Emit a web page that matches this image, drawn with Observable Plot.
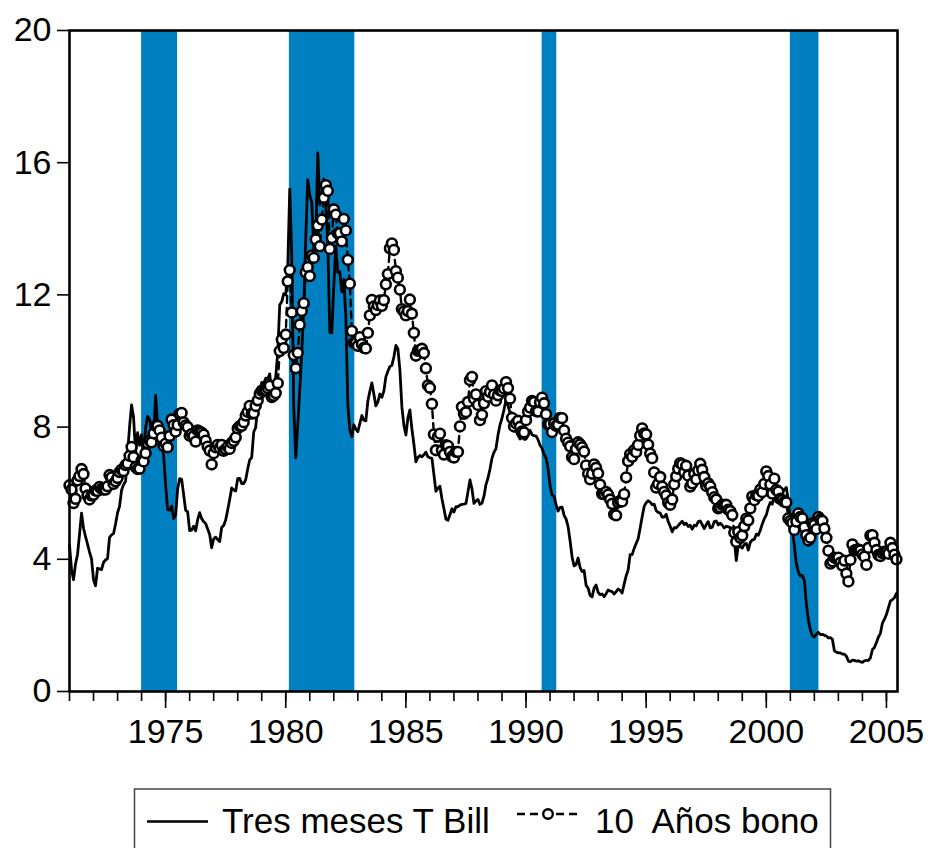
<!DOCTYPE html>
<html>
<head>
<meta charset="utf-8">
<script src="https://cdn.jsdelivr.net/npm/d3@7"></script>
<script src="https://cdn.jsdelivr.net/npm/@observablehq/plot@0.6"></script>
<style>
  html, body { margin: 0; padding: 0; background: white; }
  body { width: 928px; height: 848px; position: relative; overflow: hidden; font-family: "Liberation Sans", Arial, Helvetica, sans-serif; }
  #chart { position: absolute; left: 0; top: 0; }
  #legend { position: absolute; left: 0; top: 770px; }
</style>
</head>
<body>
<div id="chart"></div>
<svg id="legend" width="928" height="78"></svg>
<script>
// ---- Data (monthly, Jan 1971 – Jun 2005) ----
const startYear = 1971;
const seriesNames = ["Tres meses T Bill", "10  Años bono"];

const tbill = [
  4.44,3.70,3.38,3.86,4.14,4.75,5.40,4.94,4.69,4.46,4.22,4.01,
  3.38,3.20,3.73,3.71,3.69,3.91,3.98,4.02,4.66,4.74,4.78,5.07,
  5.41,5.60,6.09,6.26,6.36,7.19,8.01,8.67,8.29,7.22,7.83,7.45,
  7.77,7.12,7.96,8.33,8.23,7.90,7.55,8.96,8.06,7.46,7.47,7.15,
  6.26,5.50,5.49,5.61,5.23,5.34,6.13,6.44,6.42,5.96,5.48,5.44,
  4.87,4.88,5.00,4.86,5.20,5.41,5.23,5.14,5.08,4.92,4.75,4.35,
  4.62,4.67,4.60,4.54,4.96,5.02,5.19,5.49,5.81,6.16,6.10,6.07,
  6.44,6.45,6.29,6.29,6.41,6.73,7.01,7.08,7.85,7.99,8.64,9.08,
  9.35,9.32,9.48,9.46,9.61,9.06,9.24,9.52,10.26,11.70,11.79,12.04,
  12.00,12.86,15.20,13.20,8.58,7.07,8.06,9.13,10.27,11.62,13.73,15.49,
  15.02,14.79,13.36,13.69,16.30,14.73,14.95,15.51,14.70,13.54,10.86,10.85,
  12.28,13.48,12.68,12.70,12.09,12.47,11.35,8.68,7.92,7.71,8.07,7.94,
  7.86,8.11,8.35,8.21,8.19,8.79,9.08,9.34,9.00,8.64,8.76,9.00,
  8.90,9.09,9.52,9.69,9.83,9.87,10.12,10.47,10.37,9.74,8.61,8.06,
  7.76,8.27,8.52,7.95,7.48,6.95,7.08,7.14,7.10,7.16,7.24,7.10,
  7.07,7.06,6.56,6.06,6.15,6.21,5.83,5.53,5.21,5.18,5.35,5.53,
  5.43,5.59,5.59,5.64,5.66,5.67,5.69,6.04,6.40,6.13,5.69,5.77,
  5.81,5.66,5.70,5.91,6.26,6.46,6.73,7.06,7.24,7.35,7.76,8.07,
  8.27,8.53,8.82,8.65,8.43,8.15,7.88,7.90,7.75,7.64,7.69,7.63,
  7.64,7.74,7.90,7.77,7.74,7.73,7.62,7.45,7.36,7.17,7.06,6.74,
  6.22,5.94,5.91,5.65,5.46,5.57,5.58,5.33,5.22,4.99,4.56,4.07,
  3.80,3.84,4.04,3.75,3.63,3.66,3.21,3.13,2.91,2.86,3.13,3.22,
  3.00,2.93,2.95,2.87,2.96,3.07,3.04,3.02,2.95,3.02,3.10,3.06,
  2.98,3.25,3.50,3.68,4.14,4.14,4.33,4.48,4.62,4.95,5.29,5.60,
  5.71,5.77,5.73,5.65,5.67,5.47,5.42,5.40,5.28,5.28,5.36,5.14,
  5.00,4.83,4.96,4.95,5.02,5.09,5.15,5.05,5.09,4.99,5.03,4.91,
  5.03,5.01,5.14,5.16,5.05,4.93,5.05,5.14,4.95,4.97,5.14,5.16,
  5.04,5.09,5.03,4.95,5.00,4.98,4.96,4.90,4.61,3.96,4.41,4.39,
  4.34,4.45,4.48,4.28,4.51,4.59,4.60,4.76,4.73,4.88,5.07,5.23,
  5.34,5.57,5.72,5.67,5.92,5.74,6.03,6.13,6.01,6.11,6.17,5.77,
  5.15,4.88,4.42,3.87,3.62,3.49,3.51,3.36,2.64,2.16,1.87,1.69,
  1.65,1.73,1.79,1.72,1.73,1.70,1.68,1.62,1.63,1.58,1.23,1.19,
  1.17,1.17,1.13,1.13,1.07,0.92,0.90,0.95,0.94,0.92,0.93,0.90,
  0.88,0.93,0.94,0.94,1.02,1.27,1.33,1.48,1.65,1.76,2.07,2.19,
  2.33,2.54,2.74,2.78,2.84,2.97
];

const bond10 = [
  6.24,6.11,5.70,5.83,6.39,6.52,6.73,6.58,6.14,5.93,5.81,5.93,
  5.95,6.08,6.07,6.19,6.13,6.11,6.11,6.21,6.55,6.48,6.28,6.36,
  6.46,6.64,6.71,6.67,6.85,6.90,7.13,7.40,7.09,6.79,6.73,6.74,
  6.99,6.96,7.21,7.51,7.58,7.54,7.81,8.04,8.04,7.90,7.68,7.43,
  7.50,7.39,7.73,8.23,8.06,7.86,8.06,8.40,8.43,8.14,8.05,8.00,
  7.74,7.79,7.73,7.56,7.90,7.86,7.83,7.77,7.59,7.41,7.29,6.87,
  7.21,7.39,7.46,7.37,7.46,7.28,7.33,7.40,7.34,7.52,7.58,7.69,
  7.96,8.03,8.04,8.15,8.35,8.46,8.64,8.41,8.42,8.64,8.81,9.01,
  9.10,9.10,9.12,9.18,9.25,8.91,8.95,9.03,9.33,10.30,10.65,10.39,
  10.80,12.41,12.75,11.47,10.18,9.78,10.25,11.10,11.51,11.75,12.68,12.84,
  12.57,13.19,13.12,13.68,14.10,13.47,14.28,14.94,15.32,15.15,13.39,13.72,
  14.59,14.43,13.86,13.87,13.62,14.30,13.95,13.06,12.34,10.91,10.55,10.54,
  10.46,10.72,10.51,10.40,10.38,10.85,11.38,11.85,11.65,11.54,11.69,11.83,
  11.67,11.84,12.32,12.63,13.41,13.56,13.36,12.72,12.52,12.16,11.57,11.50,
  11.38,11.51,11.86,11.43,10.85,10.16,10.31,10.33,10.37,10.24,9.78,9.26,
  9.19,8.70,7.78,7.30,7.71,7.80,7.30,7.17,7.45,7.43,7.25,7.11,
  7.08,7.25,7.25,8.02,8.61,8.40,8.45,8.76,9.42,9.52,8.86,8.99,
  8.67,8.21,8.37,8.72,9.09,8.92,9.06,9.26,8.98,8.80,8.96,9.11,
  9.09,9.17,9.36,9.18,8.86,8.28,8.02,8.11,8.19,8.01,7.87,7.84,
  8.21,8.47,8.59,8.79,8.76,8.48,8.47,8.75,8.89,8.72,8.39,8.08,
  8.09,7.85,8.11,8.04,8.07,8.28,8.27,7.90,7.65,7.53,7.42,7.09,
  7.03,7.34,7.54,7.48,7.39,7.26,6.84,6.59,6.42,6.59,6.87,6.77,
  6.60,6.26,5.98,5.97,6.04,5.96,5.81,5.68,5.36,5.33,5.72,5.77,
  5.75,5.97,6.48,6.97,7.18,7.10,7.30,7.24,7.46,7.74,7.96,7.81,
  7.78,7.47,7.20,7.06,6.63,6.17,6.28,6.49,6.20,6.04,5.93,5.71,
  5.65,5.81,6.27,6.51,6.74,6.91,6.87,6.64,6.83,6.53,6.20,6.30,
  6.58,6.42,6.69,6.89,6.71,6.49,6.22,6.30,6.21,6.03,5.88,5.81,
  5.54,5.57,5.65,5.64,5.65,5.50,5.46,5.34,4.81,4.53,4.83,4.65,
  4.72,5.00,5.23,5.18,5.54,5.90,5.79,5.94,5.92,6.11,6.03,6.28,
  6.66,6.52,6.26,5.99,6.44,6.10,6.05,5.83,5.80,5.74,5.72,5.24,
  5.16,5.10,4.89,5.14,5.39,5.28,5.24,4.97,4.73,4.57,4.65,5.09,
  5.04,4.91,5.28,5.21,5.16,4.93,4.65,4.26,3.87,3.94,4.05,4.03,
  4.05,3.90,3.81,3.96,3.57,3.33,3.98,4.45,4.27,4.29,4.30,4.27,
  4.15,4.08,3.83,4.35,4.72,4.73,4.50,4.28,4.13,4.10,4.19,4.23,
  4.22,4.17,4.50,4.34,4.14,4.00
];

// Recession bands (shaded)
const recStart = [1974.0, 1980.15, 1990.67, 2001.0];
const recEnd   = [1975.5, 1982.875, 1991.28, 2002.19];

// Tick values
const yTicks = [0, 4, 8, 12, 16, 20];
const majorYears = [1975, 1980, 1985, 1990, 1995, 2000, 2005];
const minorYears = d3.range(1971, 2006);

// ---- Build tables ----
const tbillData = tbill.map((v, i) => ({t: startYear + i / 12, v}));
const bondData = bond10.map((v, i) => ({t: startYear + i / 12, v}));
const recessions = recStart.map((s, i) => ({start: s, end: recEnd[i]}));

const FONT = '"Liberation Sans", Arial, Helvetica, sans-serif';

const chart = Plot.plot({
  width: 928,
  height: 770,
  marginLeft: 69,
  marginRight: 31,
  marginTop: 30,
  marginBottom: 79,
  x: {domain: [1971, 2005.46], label: null},
  y: {domain: [0, 20], label: null},
  style: {fontFamily: FONT, background: "white", color: "black", overflow: "visible"},
  marks: [
    Plot.rect(recessions, {x1: "start", x2: "end", y1: 0, y2: 20, fill: "#0080c0"}),
    Plot.line(tbillData, {x: "t", y: "v", stroke: "black", strokeWidth: 2.8}),
    Plot.line(bondData, {x: "t", y: "v", stroke: "black", strokeWidth: 2.4, strokeDasharray: "7,5"}),
    Plot.dot(bondData, {x: "t", y: "v", r: 4.9, fill: "white", stroke: "black", strokeWidth: 2.6}),
    Plot.frame({stroke: "black", strokeWidth: 2.6}),
    Plot.axisY(yTicks, {tickSize: 12, tickPadding: 6, fontSize: 34, strokeWidth: 1.6, label: null}),
    Plot.axisX(majorYears, {tickSize: 17, tickPadding: 10, fontSize: 34, strokeWidth: 1.6, tickFormat: d => String(d), label: null}),
    Plot.axisX(minorYears, {tickSize: 10, strokeWidth: 1.6, tickFormat: () => "", label: null})
  ]
});
document.getElementById("chart").appendChild(chart);

// ---- Legend ----
const lg = d3.select("#legend");
lg.append("rect")
  .attr("x", 134.5).attr("y", 19).attr("width", 696).attr("height", 120)
  .attr("fill", "none").attr("stroke", "#444").attr("stroke-width", 1.5);
lg.append("line")
  .attr("x1", 147).attr("x2", 208).attr("y1", 51.5).attr("y2", 51.5)
  .attr("stroke", "black").attr("stroke-width", 2.4);
lg.append("text")
  .attr("x", 222).attr("y", 63)
  .attr("font-family", FONT).attr("font-size", 35).attr("fill", "black")
  .text(seriesNames[0]);
lg.append("line")
  .attr("x1", 517).attr("x2", 580).attr("y1", 44).attr("y2", 44)
  .attr("stroke", "black").attr("stroke-width", 2.4).attr("stroke-dasharray", "8,5");
lg.append("circle")
  .attr("cx", 548).attr("cy", 44).attr("r", 4.8)
  .attr("fill", "white").attr("stroke", "black").attr("stroke-width", 2.4);
lg.append("text")
  .attr("x", 595).attr("y", 63)
  .attr("font-family", FONT).attr("font-size", 35).attr("fill", "black")
  .style("white-space", "pre")
  .text(seriesNames[1]);
</script>
</body>
</html>
